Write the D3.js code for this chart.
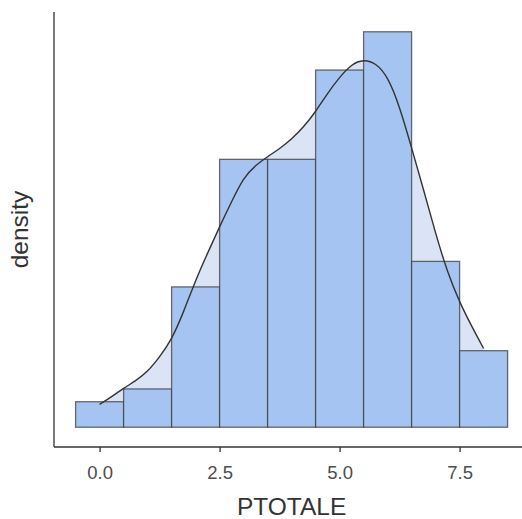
<!DOCTYPE html>
<html>
<head>
<meta charset="utf-8">
<script src="https://cdn.jsdelivr.net/npm/d3@7"></script>
<style>
  body { margin: 0; background: #fff; }
  text { font-family: "Liberation Sans", Arial, sans-serif; }
</style>
</head>
<body>
<div id="chart"></div>
<script>
// histogram bins (centres) and counts
var binCentres = [0, 1, 2, 3, 4, 5, 6, 7, 8];
var binCounts  = [2, 3, 11, 21, 21, 28, 31, 13, 6];

// kernel density estimate
var densX = [0, 0.25, 0.5, 0.75, 1, 1.25, 1.5, 1.75, 2, 2.25, 2.5, 2.75, 3, 3.25, 3.5, 3.75, 4,
             4.25, 4.5, 4.75, 5, 5.25, 5.5, 5.75, 6, 6.25, 6.5, 6.75, 7, 7.25, 7.5, 7.75, 8];
var densY = [0.0132, 0.0175, 0.0226, 0.0266, 0.032, 0.0405, 0.0503, 0.0664, 0.0848, 0.1004,
             0.1156, 0.1300, 0.1440, 0.151, 0.156, 0.1605, 0.1660, 0.173, 0.1818, 0.1926,
             0.2018, 0.2093, 0.2120, 0.2100, 0.2024, 0.185, 0.161, 0.137, 0.1115, 0.089,
             0.0720, 0.0583, 0.0454];

var xTicks = [0, 2.5, 5, 7.5];

var width = 522, height = 519;
var margin = {top: 12, left: 54};
var axisY = 447;
var binWidth = 1;

var total = d3.sum(binCounts);
var bins = binCentres.map(function(c, i) {
  return { x0: c - binWidth / 2, x1: c + binWidth / 2, density: binCounts[i] / total };
});
var dens = densX.map(function(x, i) { return { x: x, y: densY[i] }; });

var svg = d3.select("#chart")
  .append("svg")
    .attr("width", width)
    .attr("height", height);

// scales with ggplot-style 5% expansion
var xmin = -0.5, xmax = 8.5, xpad = (xmax - xmin) * 0.05;
var x = d3.scaleLinear()
  .domain([xmin - xpad, xmax + xpad])
  .range([margin.left, margin.left + 48 * (xmax - xmin + 2 * xpad)]);

var ymax = d3.max(bins, function(d) { return d.density; });
var y = d3.scaleLinear()
  .domain([-ymax * 0.05, ymax * 1.05])
  .range([axisY, margin.top]);

// density area (behind bars)
svg.append("path")
  .datum(dens)
  .attr("fill", "#dae4f6")
  .attr("stroke", "none")
  .attr("d", d3.area()
    .curve(d3.curveBasis)
    .x(function(d) { return x(d.x); })
    .y0(y(0))
    .y1(function(d) { return y(d.y); }));

// bars
svg.selectAll("rect.bar")
  .data(bins)
  .enter().append("rect")
    .attr("class", "bar")
    .attr("x", function(d) { return x(d.x0); })
    .attr("width", function(d) { return x(d.x1) - x(d.x0); })
    .attr("y", function(d) { return y(d.density); })
    .attr("height", function(d) { return y(0) - y(d.density); })
    .attr("fill", "#a6c4f1")
    .attr("stroke", "#3d3d3d")
    .attr("stroke-opacity", 0.75)
    .attr("stroke-width", 1.3);

// density line
svg.append("path")
  .datum(dens)
  .attr("fill", "none")
  .attr("stroke", "#333333")
  .attr("stroke-width", 1.4)
  .attr("d", d3.line()
    .curve(d3.curveBasis)
    .x(function(d) { return x(d.x); })
    .y(function(d) { return y(d.y); }));

// x axis
var xAxis = svg.append("g")
  .attr("transform", "translate(0," + axisY + ")")
  .call(d3.axisBottom(x).tickValues(xTicks).tickSize(5).tickPadding(14)
    .tickFormat(d3.format(".1f")));
xAxis.select(".domain").attr("stroke", "#333").attr("stroke-width", 1.3)
  .attr("d", "M" + margin.left + ",0H" + x.range()[1]);
xAxis.selectAll(".tick line").attr("stroke", "#333").attr("stroke-width", 1.3);
xAxis.selectAll(".tick text").attr("fill", "#4d4d4d")
  .style("font-size", "18.5px").attr("font-family", "Liberation Sans, Arial, sans-serif");

// y axis line only
svg.append("line")
  .attr("x1", margin.left).attr("x2", margin.left)
  .attr("y1", margin.top).attr("y2", axisY)
  .attr("stroke", "#333").attr("stroke-width", 1.3);

// axis titles
svg.append("text")
  .attr("x", (margin.left + x.range()[1]) / 2)
  .attr("y", 515)
  .attr("text-anchor", "middle")
  .attr("fill", "#333")
  .style("font-size", "24.5px")
  .text("PTOTALE");

svg.append("text")
  .attr("transform", "translate(28," + (margin.top + axisY) / 2 + ") rotate(-90)")
  .attr("text-anchor", "middle")
  .attr("fill", "#333")
  .style("font-size", "24.5px")
  .text("density");
</script>
</body>
</html>
